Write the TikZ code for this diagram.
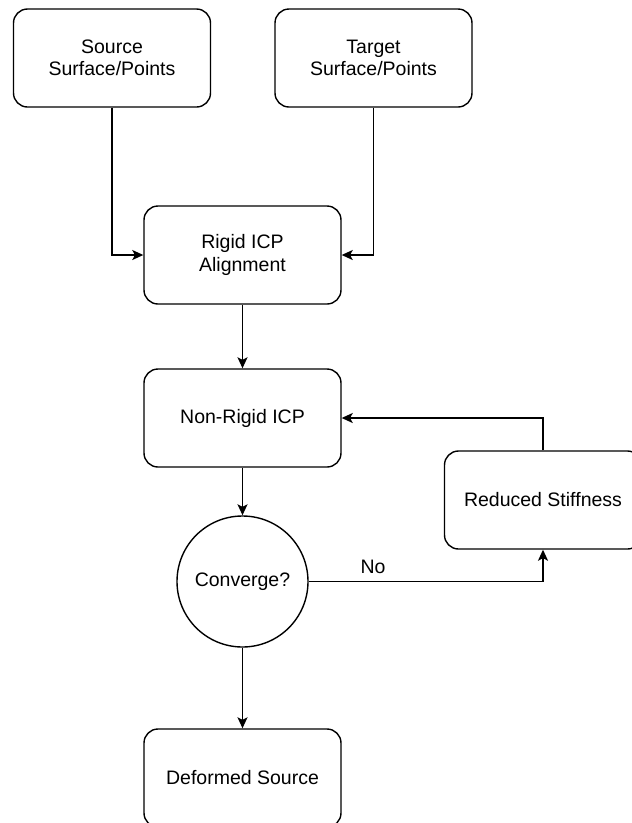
\documentclass[tikz,border=0pt]{standalone}
\usepackage{fontspec}
\setmainfont{Liberation Sans}
\usetikzlibrary{arrows.meta}
\begin{document}
\begin{tikzpicture}[x=1pt,y=-1pt,
  box/.style={draw, line width=1.4pt, rounded corners=14pt, minimum width=197pt, minimum height=98pt, inner sep=0pt, align=center, font=\fontsize{19.5}{22.5}\selectfont},
  decision/.style={draw, line width=1.4pt, circle, minimum size=131pt, inner sep=0pt, font=\fontsize{19.5}{22.5}\selectfont},
  conn/.style={draw, line width=1.4pt, -{Stealth[length=11pt,width=10pt,inset=2.5pt]}},
  lab/.style={font=\fontsize{19.5}{22.5}\selectfont}]
\clip (0,0) rectangle (632,823);
\fill[white] (0,0) rectangle (632,823);
\node[box] (src) at (112,58) {Source\\Surface/Points};
\node[box] (tgt) at (373.5,58) {Target\\Surface/Points};
\node[box] (rigid) at (242.5,255) {Rigid ICP\\Alignment};
\node[box] (nonrigid) at (242.5,418) {Non-Rigid ICP};
\node[box] (red) at (543,500) {Reduced Stiffness};
\node[decision] (conv) at (242.5,581.5) {Converge?};
\node[box] (def) at (242.5,778) {Deformed Source};
\node[lab] (nolab) at (373,567) {No};
\draw[conn] (src.south) |- (rigid.west);
\draw[conn] (tgt.south) |- (rigid.east);
\draw[conn] (rigid) -- (nonrigid);
\draw[conn] (nonrigid) -- (conv);
\draw[conn] (conv.east) -| (red.south);
\draw[conn] (red.north) |- (nonrigid.east);
\draw[conn] (conv) -- (def);
\end{tikzpicture}
\end{document}
